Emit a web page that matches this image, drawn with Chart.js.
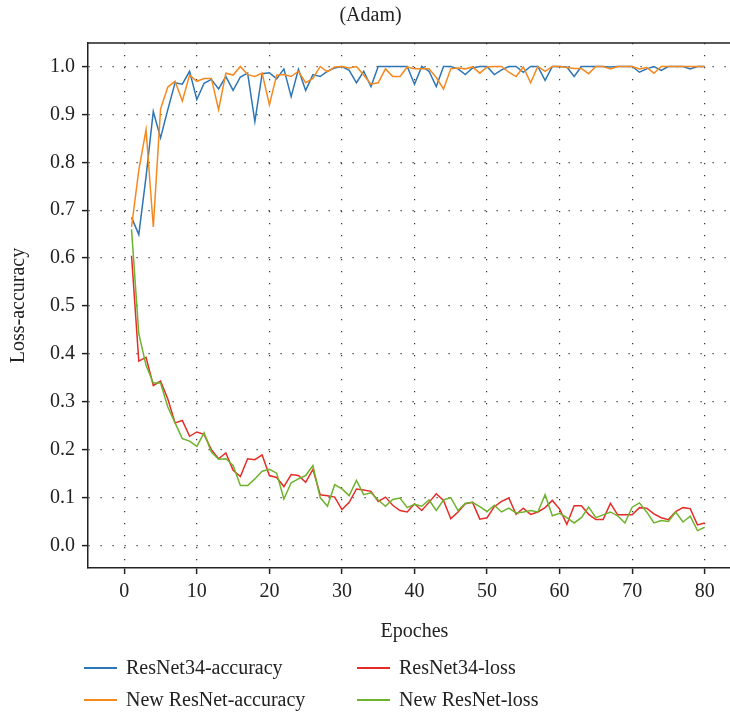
<!DOCTYPE html>
<html>
<head>
<meta charset="utf-8">
<script src="https://cdn.jsdelivr.net/npm/chart.js@4/dist/chart.umd.min.js"></script>
<style>
html, body { margin: 0; padding: 0; background: #fff; overflow: hidden; width: 730px; height: 716px; }
canvas { display: block; }
</style>
</head>
<body>
<canvas id="graph1" width="829" height="716"></canvas>
<script>
// training curves, values
var epochs = [1, 2, 3, 4, 5, 6, 7, 8, 9, 10, 11, 12, 13, 14, 15, 16, 17, 18, 19, 20,
  21, 22, 23, 24, 25, 26, 27, 28, 29, 30, 31, 32, 33, 34, 35, 36, 37, 38, 39, 40,
  41, 42, 43, 44, 45, 46, 47, 48, 49, 50, 51, 52, 53, 54, 55, 56, 57, 58, 59, 60,
  61, 62, 63, 64, 65, 66, 67, 68, 69, 70, 71, 72, 73, 74, 75, 76, 77, 78, 79, 80];

var resnetAcc = [0.685, 0.649, 0.77, 0.906, 0.851, 0.91, 0.966, 0.963, 0.99, 0.931,
  0.965, 0.973, 0.953, 0.979, 0.95, 0.978, 0.986, 0.885, 0.985, 0.987,
  0.974, 0.995, 0.937, 0.994, 0.95, 0.983, 0.979, 0.99, 0.997, 1.0,
  0.992, 0.966, 0.99, 0.958, 1.0, 1.0, 1.0, 1.0, 1.0, 0.963,
  1.0, 0.99, 0.958, 1.0, 1.0, 0.995, 0.983, 0.997, 1.0, 1.0,
  0.983, 0.993, 1.0, 1.0, 0.988, 1.0, 1.0, 0.971, 1.0, 1.0,
  0.999, 0.979, 1.0, 1.0, 1.0, 1.0, 0.999, 1.0, 1.0, 1.0,
  0.988, 0.995, 1.0, 0.992, 1.0, 1.0, 1.0, 0.995, 1.0, 1.0];

var newAcc = [0.665, 0.783, 0.868, 0.665, 0.911, 0.957, 0.969, 0.928, 0.982, 0.969,
  0.975, 0.975, 0.91, 0.986, 0.982, 1.0, 0.983, 0.979, 0.986, 0.92,
  0.982, 0.983, 0.979, 0.99, 0.966, 0.975, 1.0, 0.989, 0.999, 1.0,
  0.997, 1.0, 0.982, 0.963, 0.966, 0.995, 0.979, 0.979, 0.999, 0.995,
  0.995, 0.995, 0.977, 0.953, 0.995, 0.997, 0.995, 0.999, 0.986, 0.999,
  1.0, 1.0, 0.988, 0.979, 0.999, 0.966, 1.0, 0.99, 1.0, 1.0,
  0.998, 0.996, 0.996, 0.985, 1.0, 1.0, 0.995, 1.0, 1.0, 1.0,
  0.995, 0.998, 0.986, 1.0, 1.0, 1.0, 1.0, 1.0, 1.0, 1.0];

var resnetLoss = [0.605, 0.385, 0.393, 0.334, 0.343, 0.306, 0.256, 0.261, 0.228, 0.237,
  0.232, 0.2, 0.181, 0.193, 0.157, 0.144, 0.181, 0.179, 0.189, 0.146,
  0.142, 0.123, 0.148, 0.146, 0.132, 0.159, 0.106, 0.104, 0.101, 0.075,
  0.09, 0.118, 0.116, 0.113, 0.092, 0.101, 0.084, 0.073, 0.07, 0.087,
  0.073, 0.09, 0.108, 0.094, 0.056, 0.07, 0.087, 0.09, 0.055, 0.058,
  0.081, 0.092, 0.099, 0.065, 0.078, 0.065, 0.07, 0.079, 0.094, 0.076,
  0.044, 0.083, 0.083, 0.065, 0.054, 0.054, 0.088, 0.064, 0.064, 0.064,
  0.079, 0.078, 0.066, 0.058, 0.054, 0.071, 0.079, 0.077, 0.043, 0.047];

var newLoss = [0.66, 0.442, 0.376, 0.339, 0.339, 0.289, 0.256, 0.223, 0.218, 0.207,
  0.235, 0.195, 0.18, 0.181, 0.167, 0.125, 0.125, 0.139, 0.155, 0.159,
  0.151, 0.097, 0.131, 0.139, 0.146, 0.167, 0.1, 0.082, 0.127, 0.118,
  0.104, 0.136, 0.106, 0.11, 0.095, 0.082, 0.096, 0.099, 0.079, 0.086,
  0.082, 0.095, 0.073, 0.095, 0.1, 0.073, 0.088, 0.09, 0.081, 0.071,
  0.084, 0.07, 0.078, 0.068, 0.07, 0.073, 0.07, 0.106, 0.062, 0.067,
  0.058, 0.047, 0.058, 0.08, 0.058, 0.064, 0.07, 0.062, 0.047, 0.08,
  0.089, 0.07, 0.047, 0.052, 0.05, 0.07, 0.049, 0.061, 0.031, 0.038];

var seriesNames = ['ResNet34-accuracy', 'New ResNet-accuracy', 'ResNet34-loss', 'New ResNet-loss'];
var xTicks = [0, 10, 20, 30, 40, 50, 60, 70, 80];
var yTicks = [0, 0.1, 0.2, 0.3, 0.4, 0.5, 0.6, 0.7, 0.8, 0.9, 1.0];

var serif = "'Liberation Serif', 'DejaVu Serif', serif";
var ink = '#222';

function pts(arr) {
  return epochs.map(function (e, i) { return { x: e, y: arr[i] }; });
}

function line(label, arr, color, order) {
  return {
    label: label,
    data: pts(arr),
    borderColor: color,
    backgroundColor: color,
    borderWidth: 1.5,
    pointRadius: 0,
    tension: 0,
    fill: false,
    order: order
  };
}

// matplotlib-like frame on top / right
var framePlugin = {
  id: 'frame',
  afterDatasetsDraw: function (chart) {
    var a = chart.chartArea, ctx = chart.ctx;
    ctx.save();
    ctx.strokeStyle = ink;
    ctx.lineWidth = 1.5;
    ctx.beginPath();
    ctx.moveTo(a.left, a.top);
    ctx.lineTo(a.right, a.top);
    ctx.lineTo(a.right, a.bottom);
    ctx.stroke();
    ctx.restore();
  }
};

// two column legend under the axis
var legendPlugin = {
  id: 'twoColLegend',
  afterDraw: function (chart) {
    var ctx = chart.ctx;
    var cols = [84, 357];
    var rows = [668, 700];
    ctx.save();
    ctx.font = '20px ' + serif;
    ctx.textBaseline = 'middle';
    ctx.textAlign = 'left';
    chart.data.datasets.forEach(function (ds, i) {
      var x = cols[Math.floor(i / 2)], y = rows[i % 2];
      ctx.strokeStyle = ds.borderColor;
      ctx.lineWidth = 2;
      ctx.beginPath();
      ctx.moveTo(x, y);
      ctx.lineTo(x + 33, y);
      ctx.stroke();
      ctx.fillStyle = ink;
      ctx.fillText(ds.label, x + 42, y + 1);
    });
    ctx.restore();
  }
};

function makeChart() {
  var canvas = document.getElementById('graph1');
  var ctx = canvas.getContext('2d');

  var chart = new Chart(ctx, {
    type: 'line',
    data: {
      datasets: [
        line(seriesNames[0], resnetAcc, '#2c76b6', 4),
        line(seriesNames[1], newAcc, '#f5891f', 3),
        line(seriesNames[2], resnetLoss, '#e52d27', 2),
        line(seriesNames[3], newLoss, '#6fb22d', 1)
      ]
    },
    options: {
      responsive: false,
      animation: false,
      devicePixelRatio: 1,
      layout: { padding: { left: 0, right: 88, top: 0, bottom: 72 } },
      plugins: {
        legend: { display: false },
        tooltip: { enabled: false },
        title: {
          display: true,
          text: '(Adam)',
          color: ink,
          font: { family: serif, size: 20, weight: 'normal' },
          padding: { top: 4, bottom: 15 }
        }
      },
      scales: {
        x: {
          type: 'linear',
          min: -5,
          max: 85,
          afterBuildTicks: function (s) { s.ticks = xTicks.map(function (v) { return { value: v }; }); },
          afterFit: function (s) { s.height = 76; },
          ticks: {
            color: ink,
            font: { family: serif, size: 20 },
            padding: 6,
            maxRotation: 0,
            callback: function (v) { return String(v); }
          },
          grid: { color: '#333', lineWidth: 1.2, tickLength: 6, tickColor: ink, tickWidth: 1.5 },
          border: { display: true, color: ink, width: 1.5, dash: [1.2, 10.8] },
          title: {
            display: true,
            text: 'Epoches',
            color: ink,
            font: { family: serif, size: 20 },
            padding: { top: 0, bottom: 0 }
          }
        },
        y: {
          type: 'linear',
          min: -0.047,
          max: 1.049,
          afterBuildTicks: function (s) { s.ticks = yTicks.map(function (v) { return { value: v }; }); },
          afterFit: function (s) { s.width = 88; },
          ticks: {
            color: ink,
            font: { family: serif, size: 20 },
            padding: 7,
            callback: function (v) { return Number(v).toFixed(1); }
          },
          grid: { color: '#333', lineWidth: 1.2, tickLength: 6, tickColor: ink, tickWidth: 1.5 },
          border: { display: true, color: ink, width: 1.5, dash: [1.2, 10.8] },
          title: {
            display: true,
            text: 'Loss-accuracy',
            color: ink,
            font: { family: serif, size: 20 },
            padding: { top: 7, bottom: 0 }
          }
        }
      }
    },
    plugins: [framePlugin, legendPlugin]
  });
}

makeChart();
</script>
</body>
</html>
